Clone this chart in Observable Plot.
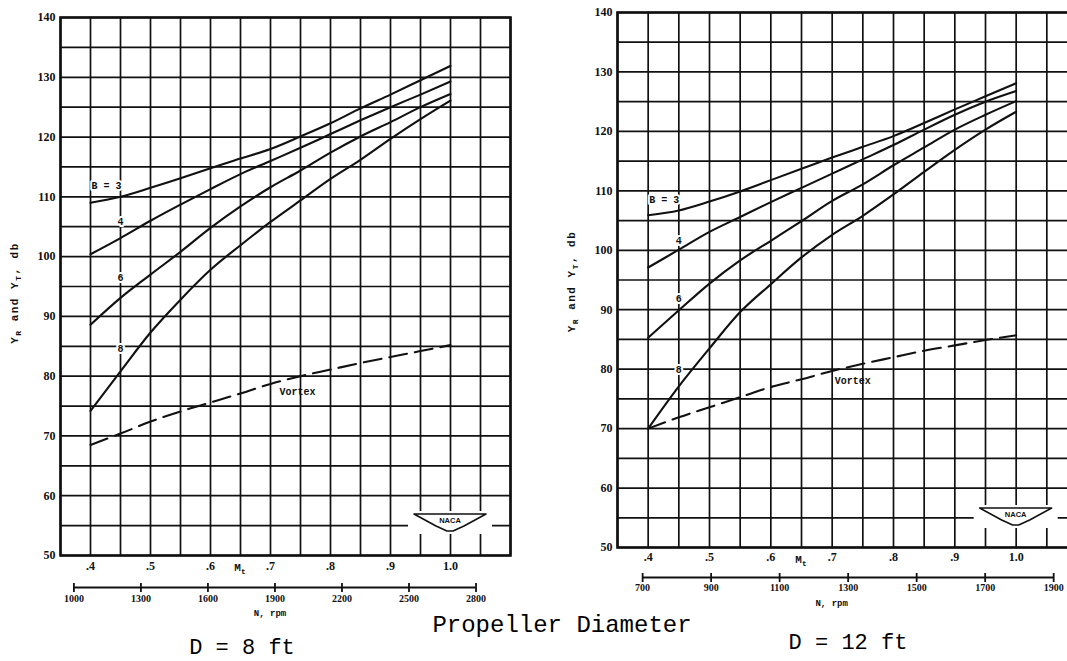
<!DOCTYPE html>
<html>
<head>
<meta charset="utf-8">
<script src="https://cdn.jsdelivr.net/npm/d3@7"></script>
<script src="https://cdn.jsdelivr.net/npm/@observablehq/plot@0.6"></script>
<style>
html, body { margin: 0; padding: 0; background: #fff; overflow: hidden; }
#wrap { position: relative; width: 1067px; height: 661px; overflow: hidden; background: #fff; }
#wrap svg { max-width: none !important; }
#left { position: absolute; left: 0; top: 0; width: 522px; }
#right { position: absolute; left: 560px; top: 0; width: 527px; }
.cap { position: absolute; font-family: "Liberation Mono", "DejaVu Sans Mono", monospace; color: #000;
       white-space: nowrap; line-height: 1; transform: translateX(-50%); }
</style>
</head>
<body>
<div id="wrap">
  <div id="left"></div>
  <div id="right"></div>
  <div class="cap" style="left:242px; top:638px; font-size:22px;">D = 8 ft</div>
  <div class="cap" style="left:562px; top:614px; font-size:24px;">Propeller Diameter</div>
  <div class="cap" style="left:848px; top:633px; font-size:22px;">D = 12 ft</div>
</div>
<script>
// ---------- data ----------
const soundSpeed = 1125; // ft/s, relates tip Mach number to rpm
const mach = [0.40, 0.45, 0.50, 0.55, 0.60, 0.65, 0.70, 0.75, 0.80, 0.85, 0.90, 0.95, 1.00];

// D = 8 ft
const b3_8 = [109.0, 110.0, 111.5, 113.1, 114.8, 116.4, 118.0, 120.1, 122.3, 124.8, 127.1, 129.5, 131.9];
const b4_8 = [100.4, 103.1, 106.0, 108.7, 111.3, 113.8, 116.0, 118.2, 120.5, 122.8, 125.0, 127.1, 129.3];
const b6_8 = [88.6, 93.1, 97.0, 100.8, 104.8, 108.4, 111.6, 114.4, 117.4, 120.1, 122.5, 125.0, 127.2];
const b8_8 = [74.2, 80.8, 87.3, 92.8, 97.8, 101.9, 105.8, 109.4, 113.0, 116.2, 119.7, 123.0, 126.1];
const vortex_8 = [68.5, 70.4, 72.4, 74.1, 75.6, 77.1, 78.7, 80.0, 81.1, 82.2, 83.2, 84.2, 85.2];

// D = 12 ft
const b3_12 = [105.9, 106.7, 108.2, 109.9, 111.8, 113.7, 115.6, 117.4, 119.2, 121.4, 123.7, 125.9, 128.1];
const b4_12 = [97.1, 100.1, 103.1, 105.6, 108.1, 110.5, 112.9, 115.3, 117.7, 120.3, 122.8, 125.0, 126.8];
const b6_12 = [85.3, 89.9, 94.4, 98.3, 101.6, 104.9, 108.3, 111.1, 114.3, 117.3, 120.3, 122.8, 125.1];
const b8_12 = [70.0, 77.1, 83.5, 89.6, 94.3, 98.8, 102.6, 105.8, 109.4, 113.2, 116.9, 120.3, 123.3];
const vortex_12 = [70.0, 71.9, 73.6, 75.3, 77.0, 78.3, 79.7, 80.9, 82.0, 83.1, 84.0, 84.9, 85.7];

const bladeLabels = ["B = 3", "4", "6", "8"];
const vortexLabel = "Vortex";

const machGrid = [0.35, 0.40, 0.45, 0.50, 0.55, 0.60, 0.65, 0.70, 0.75, 0.80, 0.85, 0.90, 0.95, 1.00, 1.05, 1.10];
const dbGrid = [50, 55, 60, 65, 70, 75, 80, 85, 90, 95, 100, 105, 110, 115, 120, 125, 130, 135, 140];
const dbTicks = [50, 60, 70, 80, 90, 100, 110, 120, 130, 140];
const machTicks = [0.4, 0.5, 0.6, 0.7, 0.8, 0.9, 1.0];
const machTickLabels = [".4", ".5", ".6", ".7", ".8", ".9", "1.0"];
const rpmTicks8 = [1000, 1300, 1600, 1900, 2200, 2500, 2800];
const rpmTicks12 = [700, 900, 1100, 1300, 1500, 1700, 1900];

// ---------- drawing ----------
const INK = "#111";
const serif = "'Liberation Serif', 'DejaVu Serif', serif";
const mono = "'Liberation Mono', 'DejaVu Sans Mono', monospace";

const tickSymbol = {
  draw(context, size) {
    const r = Math.sqrt(size / Math.PI);
    context.moveTo(0, -r);
    context.lineTo(0, r);
  }
};

function nacaLogo(anchorMach, aboveBottom) {
  return (index, scales, values, dims) => {
    const cx = scales.x(anchorMach);
    const top = dims.height - dims.marginBottom - aboveBottom;
    const g = d3.create("svg:g").attr("transform", `translate(${cx},${top})`);
    g.append("rect").attr("x", -42).attr("y", -3).attr("width", 84).attr("height", 23).attr("fill", "white");
    g.append("path").attr("d", "M-36,0L36,0L14,12L3,17L-3,17L-14,12Z")
      .attr("fill", "white").attr("stroke", INK).attr("stroke-width", 1.6).attr("stroke-linejoin", "round");
    g.append("text").attr("y", 9).attr("text-anchor", "middle").attr("font-size", 7.5)
      .attr("font-weight", "bold").attr("font-family", "'Liberation Sans', sans-serif").attr("fill", INK).text("NACA");
    return g.node();
  };
}

function subText(parent, parts, x, y, attrs, rotate) {
  const t = parent.append("text").attr("fill", INK);
  if (rotate) t.attr("transform", `translate(${x},${y}) rotate(${rotate})`);
  else t.attr("x", x).attr("y", y);
  for (const [k, v] of Object.entries(attrs)) t.attr(k, v);
  let low = false;
  for (const [s, sub] of parts) {
    const ts = t.append("tspan").text(s);
    if (sub && !low) { ts.attr("dy", 3).attr("font-size", "0.72em"); low = true; }
    else if (sub) { ts.attr("font-size", "0.72em"); }
    else if (low) { ts.attr("dy", -3); low = false; }
  }
  return t;
}

function drawChart(cfg) {
  const rpmPerMach = 60 * soundSpeed / (Math.PI * cfg.D);
  const toMach = (n) => n / rpmPerMach;
  const yMin = dbGrid[0];
  const bladeSeries = cfg.blades;
  const bladeRows = bladeSeries.flatMap((vals, j) => mach.map((m, i) => ({m, db: vals[i], b: bladeLabels[j]})));
  const vortexRows = mach.map((m, i) => ({m, db: cfg.vortex[i]}));

  const labelMarks = bladeSeries.map((vals, j) => {
    const i = j === 0 ? 0 : 1;
    return Plot.text([{m: mach[i], db: vals[i]}], {
      x: "m", y: "db", text: () => bladeLabels[j],
      textAnchor: j === 0 ? "start" : "middle", dx: j === 0 ? 1 : 0, dy: cfg.labelDy[j],
      fontFamily: mono, fontWeight: "bold", fontSize: 10, fill: INK,
      stroke: "white", strokeWidth: 4, paintOrder: "stroke"
    });
  });

  const plot = Plot.plot({
    width: cfg.width, height: cfg.height,
    marginLeft: cfg.ml, marginRight: cfg.mr, marginTop: cfg.mt, marginBottom: cfg.mb,
    style: {background: "white", overflow: "visible", fontFamily: serif, color: INK, maxWidth: "none"},
    x: {domain: [machGrid[0], machGrid[machGrid.length - 1]], axis: null},
    y: {domain: [dbGrid[0], dbGrid[dbGrid.length - 1]], axis: null},
    marks: [
      Plot.ruleX(machGrid, {stroke: INK, strokeWidth: 1.7}),
      Plot.ruleY(dbGrid, {stroke: INK, strokeWidth: 1.7}),
      nacaLogo(mach[mach.length - 1], cfg.logoUp),
      Plot.frame({stroke: INK, strokeWidth: 2.6}),
      Plot.line(bladeRows, {x: "m", y: "db", z: "b", stroke: INK, strokeWidth: 2.1, curve: "monotone-x"}),
      Plot.line(vortexRows, {x: "m", y: "db", stroke: INK, strokeWidth: 2.1, strokeDasharray: "18,8", curve: "monotone-x"}),
      ...labelMarks,
      Plot.text([vortexRows[7]], {x: "m", y: "db", text: () => vortexLabel, dx: cfg.vortexDx, dy: cfg.vortexDy,
        fontFamily: mono, fontWeight: "bold", fontSize: 10, fill: INK}),
      // dB axis
      Plot.axisY(dbTicks, {tickSize: 0, tickPadding: 5, fontSize: 12, fontWeight: "bold", label: null,
        fontFamily: serif, fill: INK}),
      // tip Mach number axis
      Plot.axisX(machTicks, {tickSize: 0, tickPadding: cfg.machPad, fontSize: 12, fontWeight: "bold", label: null,
        fontFamily: serif, fill: INK, tickFormat: (d) => machTickLabels[machTicks.indexOf(d)]}),
      // rpm axis (same x positions, converted from rpm)
      Plot.ruleY([yMin], {x1: toMach(cfg.rpm[0]), x2: toMach(cfg.rpm[cfg.rpm.length - 1]),
        dy: cfg.rpmLine, stroke: INK, strokeWidth: 1.8}),
      Plot.dot(cfg.rpm, {x: toMach, y: () => yMin, dy: cfg.rpmLine, symbol: tickSymbol, r: 4.5,
        stroke: INK, strokeWidth: 1.8, fill: "none"}),
      Plot.text(cfg.rpm, {x: toMach, y: () => yMin, dy: cfg.rpmText, text: (d) => String(d),
        fontFamily: serif, fontWeight: "bold", fontSize: 10, fill: INK})
    ]
  });

  const svg = d3.select(plot.tagName.toLowerCase() === "svg" ? plot : plot.querySelector("svg"));
  svg.style("max-width", "none");
  const sx = plot.scale("x").apply, sy = plot.scale("y").apply;
  const fb = sy(yMin);
  // x-axis labels
  subText(svg, [["M", false], ["t", true]], sx((machTicks[2] + machTicks[3]) / 2), fb + cfg.machLabelDy,
    {"text-anchor": "middle", "font-family": mono, "font-weight": "bold", "font-size": 11});
  svg.append("text").attr("x", sx(machTicks[3])).attr("y", fb + cfg.rpmLabelDy)
    .attr("text-anchor", "middle").attr("font-family", mono).attr("font-weight", "bold")
    .attr("font-size", 9).attr("fill", INK).text("N, rpm");
  // y-axis label
  subText(svg, [["Y", false], ["R", true], [" and Y", false], ["T", true], [", db", false]],
    cfg.ml - 42, (cfg.mt + fb) / 2 + cfg.yLabelDy,
    {"text-anchor": "middle", "font-family": mono, "font-weight": "bold", "font-size": 11, "letter-spacing": 1.5}, -90);
  return plot;
}

document.getElementById("left").append(drawChart({
  D: 8, blades: [b3_8, b4_8, b6_8, b8_8], vortex: vortex_8, rpm: rpmTicks8,
  width: 522, height: 625, ml: 60, mr: 12, mt: 17, mb: 70,
  labelDy: [-17, -16, -20, -23], vortexDx: -3, vortexDy: 16,
  machPad: 6, rpmLine: 32, rpmText: 43, machLabelDy: 16, rpmLabelDy: 61, yLabelDy: 7, logoUp: 41
}));

document.getElementById("right").append(drawChart({
  D: 12, blades: [b3_12, b4_12, b6_12, b8_12], vortex: vortex_12, rpm: rpmTicks12,
  width: 527, height: 617, ml: 57, mr: 10, mt: 12, mb: 70,
  labelDy: [-15, -9, -12, -17], vortexDx: -10, vortexDy: 17,
  machPad: 5, rpmLine: 30, rpmText: 40, machLabelDy: 16, rpmLabelDy: 59, yLabelDy: 2, logoUp: 39
}));
</script>
</body>
</html>
